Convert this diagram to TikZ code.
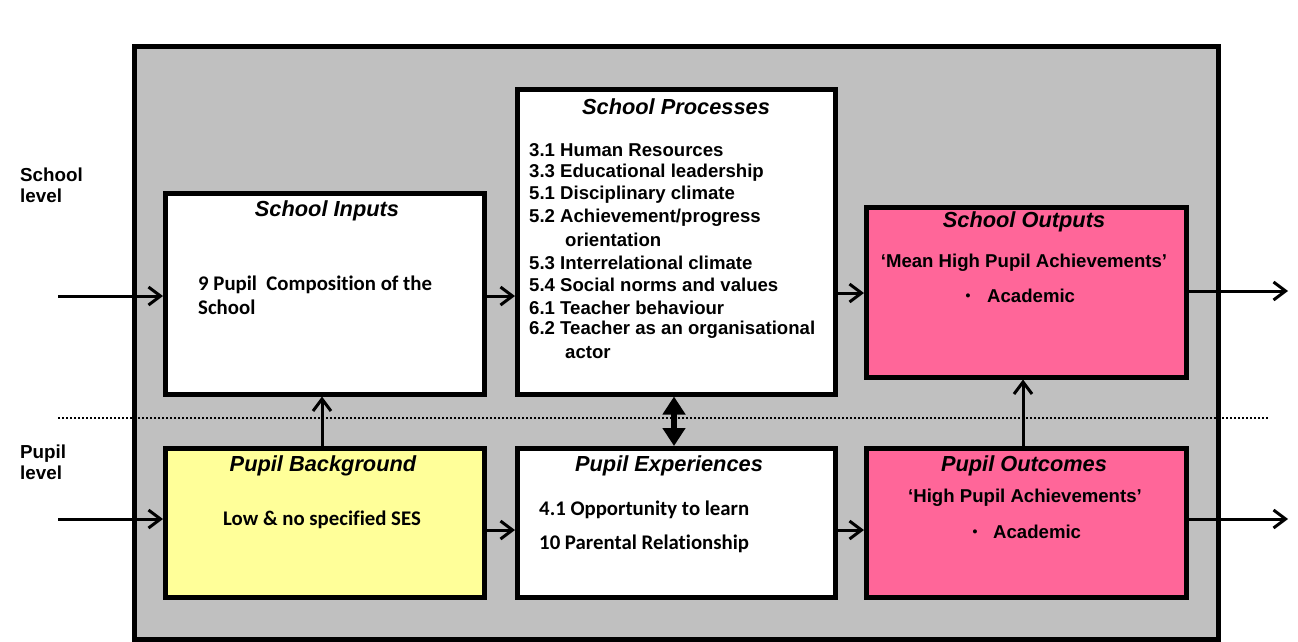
\documentclass[tikz,border=0pt]{standalone}
\usepackage{fontspec}
\setmainfont{Liberation Sans}
\newfontfamily\calib[Ligatures={NoCommon}]{Carlito}
\usetikzlibrary{arrows.meta}
\definecolor{panel}{HTML}{C0C0C0}
\definecolor{bgyellow}{HTML}{FFFF99}
\definecolor{outpink}{HTML}{FF6699}
\begin{document}
\begin{tikzpicture}[x=1pt,y=-1pt,
  box/.style={draw=black, line width=4.5pt, anchor=north west, inner sep=0pt},
  ttl/.style={font=\fontsize{21.8}{24}\selectfont\bfseries\itshape, inner sep=0pt},
  txt/.style={font=\fontsize{18.6}{22.6}\selectfont\bfseries, inner sep=0pt},
  ctxt/.style={font=\calib\fontsize{20.8}{22.6}\selectfont\bfseries, inner sep=0pt},
  blt/.style={font=\fontsize{14}{16}\selectfont\bfseries, inner sep=0pt},
  arr/.style={-{Straight Barb[length=12pt,width=18pt,line width=3pt]}, line width=3pt},
  dbl/.style={{Triangle[length=18pt,width=22pt]}-{Triangle[length=18pt,width=22pt]}, line width=5.5pt}
]
\useasboundingbox (0,0) rectangle (1298,641);
\fill[white] (0,0) rectangle (1298,641);
% outer panel
\node[box, fill=panel, minimum width=1084pt, minimum height=593pt] (outer) at (132,44) {};
% level separator
\coordinate (dl) at (58,418);
\coordinate (dr) at (1268,418);
\draw[line width=2.2pt, dash pattern=on 2pt off 2pt] (dl) -- (dr);
% boxes
\node[box, fill=white, minimum width=319pt, minimum height=201pt] (inp) at (163,191) {};
\node[box, fill=white, minimum width=318pt, minimum height=305pt] (proc) at (515,87) {};
\node[box, fill=outpink, minimum width=320pt, minimum height=170pt] (outp) at (864,205) {};
\node[box, fill=bgyellow, minimum width=319pt, minimum height=149pt] (bg) at (163,446) {};
\node[box, fill=white, minimum width=318pt, minimum height=149pt] (exp) at (515,446) {};
\node[box, fill=outpink, minimum width=320pt, minimum height=149pt] (outc) at (864,446) {};
% level labels
\node[font=\fontsize{18.8}{21}\selectfont\bfseries, inner sep=0pt, align=left, anchor=north west] (sl) at (20,168) {School\\level};
\node[font=\fontsize{18.8}{21}\selectfont\bfseries, inner sep=0pt, align=left, anchor=north west] (pl) at (20,445) {Pupil\\level};
% texts: school inputs
\node[ttl] (inpT) at (327,211) {School Inputs};
\node[ctxt, anchor=west] (inp1) at (198,285) {9 Pupil~ Composition of the};
\node[ctxt, anchor=west] (inp2) at (198,307) {School};
% school processes
\node[ttl] (procT) at (676,107) {School Processes};
\node[txt, anchor=west] (p1) at (529,150) {3.1 Human Resources};
\node[txt, anchor=west] (p2) at (529,172.5) {3.3 Educational leadership};
\node[txt, anchor=west] (p3) at (529,195) {5.1 Disciplinary climate};
\node[txt, anchor=west] (p4) at (529,217.5) {5.2 Achievement/progress};
\node[txt, anchor=west] (p5) at (565,240) {orientation};
\node[txt, anchor=west] (p6) at (529,262.5) {5.3 Interrelational climate};
\node[txt, anchor=west] (p7) at (529,285) {5.4 Social norms and values};
\node[txt, anchor=west] (p8) at (529,307.5) {6.1 Teacher behaviour};
\node[txt, anchor=west] (p9) at (529,330) {6.2 Teacher as an organisational};
\node[txt, anchor=west] (p10) at (565,352.5) {actor};
% school outputs
\node[ttl] (outpT) at (1024,222) {School Outputs};
\node[txt] (o1) at (1024,263) {`Mean High Pupil Achievements'};
\node[blt] (o2b) at (968,297) {•};
\node[txt, anchor=west] (o2) at (987,296) {Academic};
% pupil background
\node[ttl] (bgT) at (323,466) {Pupil Background};
\node[ctxt] (bg1) at (322,520) {Low \& no specified SES};
% pupil experiences
\node[ttl] (expT) at (669,466) {Pupil Experiences};
\node[ctxt, anchor=west] (e1) at (539,510) {4.1 Opportunity to learn};
\node[ctxt, anchor=west] (e2) at (539,544) {10 Parental Relationship};
% pupil outcomes
\node[ttl] (outcT) at (1024,466) {Pupil Outcomes};
\node[txt] (oc1) at (1025,498) {`High Pupil Achievements'};
\node[blt] (oc2b) at (975,533) {•};
\node[txt, anchor=west] (oc2) at (993,532) {Academic};
% connectors
\coordinate (inS) at (58,296);
\coordinate (inP) at (58,519);
\coordinate (outS) at (1288,291);
\coordinate (outP) at (1288,519);
\draw[arr] (inS) -- (inS -| inp.west);
\draw[arr] (inP) -- (inP -| bg.west);
\draw[arr] (inp.east |- 0,296) -- (proc.west |- 0,296);
\draw[arr] (proc.east |- 0,293) -- (outp.west |- 0,293);
\draw[arr] (outp.east |- outS) -- (outS);
\draw[arr] (bg.east |- 0,530) -- (exp.west |- 0,530);
\draw[arr] (exp.east |- 0,530) -- (outc.west |- 0,530);
\draw[arr] (outc.east |- outP) -- (outP);
\draw[arr] (bg.north -| 322,0) -- (inp.south -| 322,0);
\draw[arr] (outc.north -| 1023,0) -- (outp.south -| 1023,0);
\draw[dbl] (proc.south -| 674,0) -- (exp.north -| 674,0);
\end{tikzpicture}
\end{document}
